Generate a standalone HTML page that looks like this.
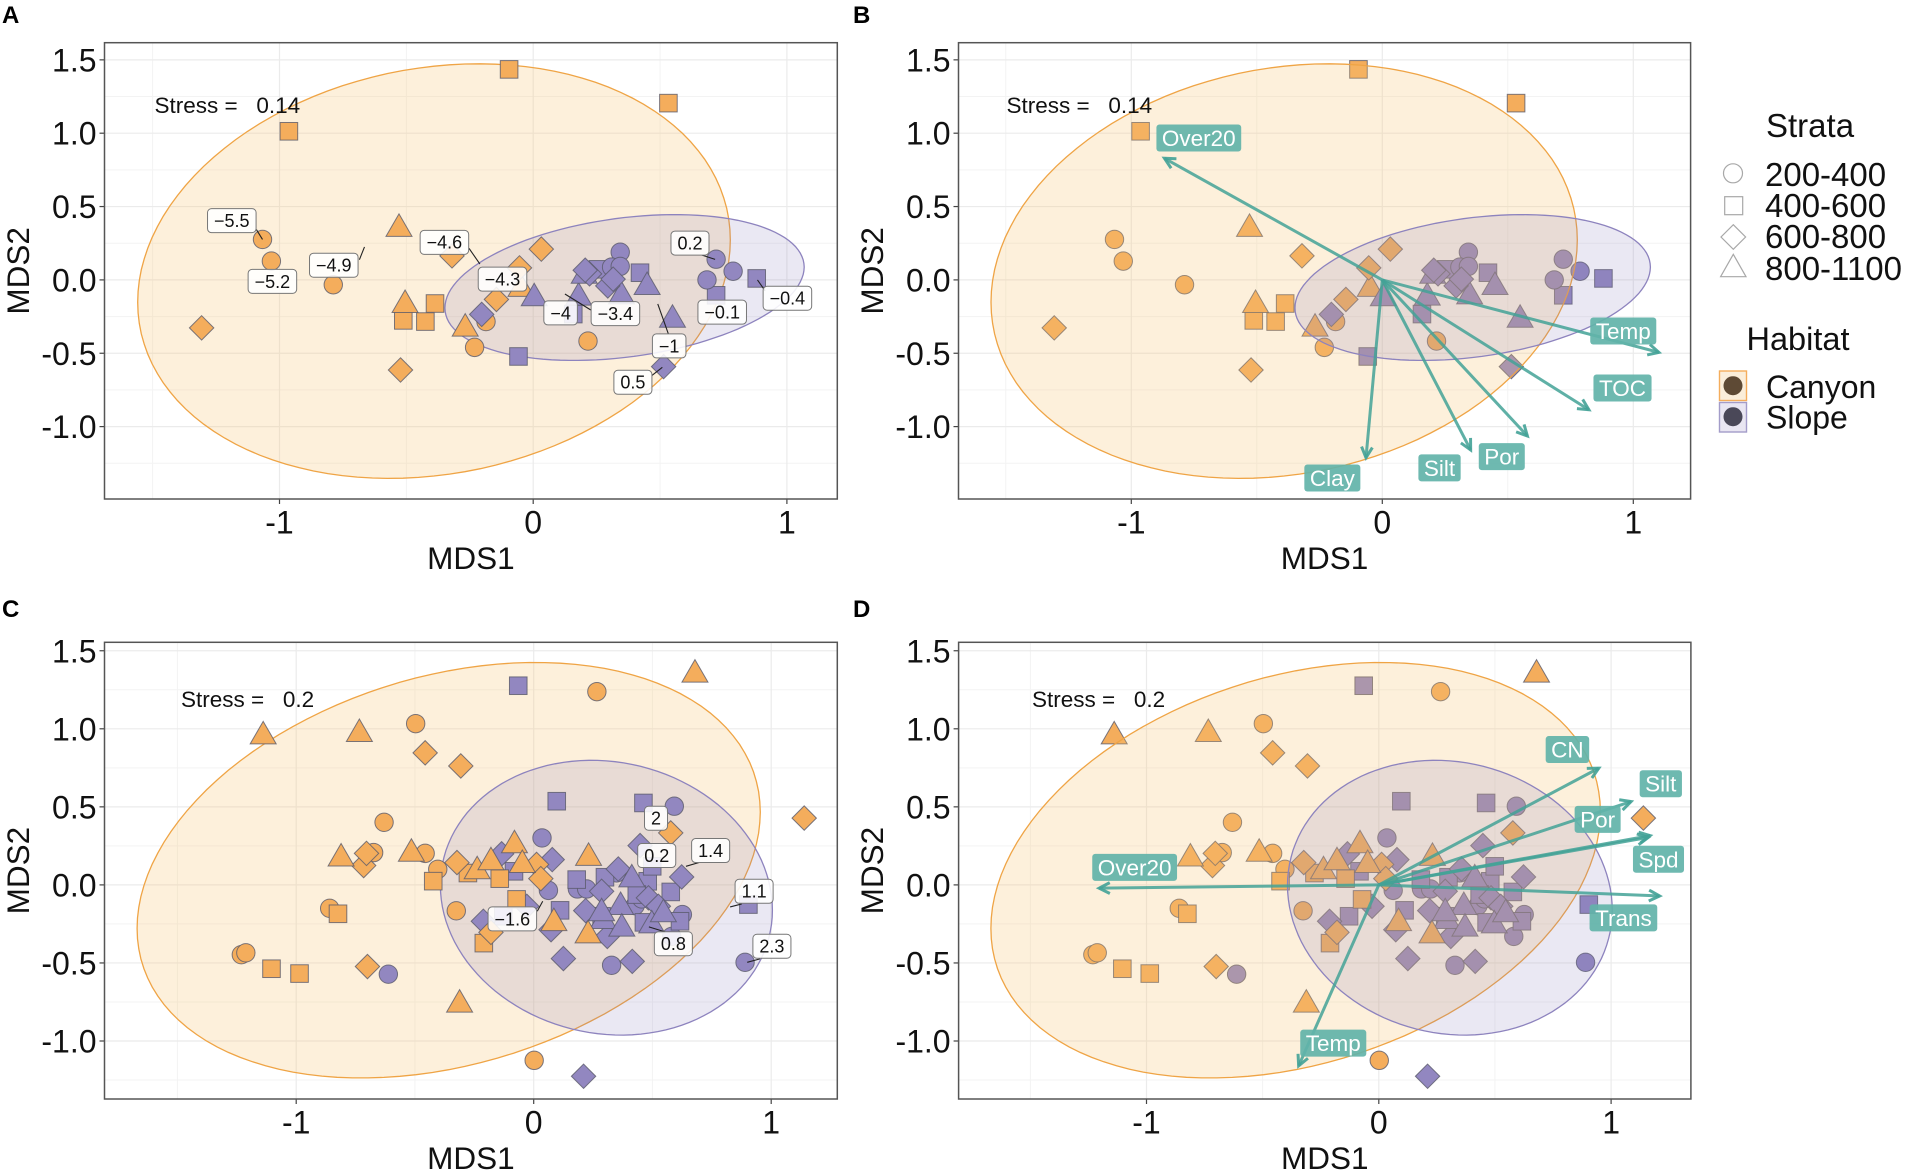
<!DOCTYPE html>
<html lang="en">
<head>
<meta charset="utf-8">
<title>NMDS ordination panels</title>
<style>
  html, body { margin: 0; padding: 0; background: #fff; }
  svg { display: block; font-family: "Liberation Sans", sans-serif; }
</style>
</head>
<body>
<svg id="fig" xmlns="http://www.w3.org/2000/svg" width="1907" height="1171" viewBox="0 0 1907 1171">
  <g>
    <text x="1766" y="137" font-size="33" fill="#111">Strata</text>
    <circle cx="1733" cy="173.3" r="9.5" fill="#fff" stroke="#a8a8a8" stroke-width="1.2"/>
    <rect x="1724.7" y="196.7" width="18" height="18" fill="#fff" stroke="#a8a8a8" stroke-width="1.2"/>
    <polygon points="1733.3,224.7 1745.6,237 1733.3,249.3 1721,237" fill="#fff" stroke="#a8a8a8" stroke-width="1.2"/>
    <polygon points="1733.3,254.3 1746,276.7 1720.6,276.7" fill="#fff" stroke="#a8a8a8" stroke-width="1.2"/>
    <text x="1765" y="186" font-size="33" fill="#111">200-400</text>
    <text x="1765" y="217" font-size="33" fill="#111">400-600</text>
    <text x="1765" y="248" font-size="33" fill="#111">600-800</text>
    <text x="1765" y="280" font-size="33" fill="#111">800-1100</text>
  </g>
  <g>
    <text x="1746.5" y="350" font-size="32.5" fill="#111">Habitat</text>
    <rect x="1719.5" y="371" width="27" height="29.5" fill="#fbeeda" stroke="#f4ad5c" stroke-width="1.4"/>
    <circle cx="1733" cy="385.7" r="9.5" fill="#5e4a35"/>
    <rect x="1719.5" y="402.5" width="27" height="29.5" fill="#e9e6f2" stroke="#a39cc9" stroke-width="1.4"/>
    <circle cx="1733" cy="416.7" r="9.5" fill="#4a4858"/>
    <text x="1766" y="398" font-size="32" fill="#111">Canyon</text>
    <text x="1766" y="428.5" font-size="32" fill="#111">Slope</text>
  </g>
</svg>
<script>
// ---- Ordination 1 (panels A, B): MDS1, MDS2 pairs ----
const ord1CanyonCircles = [[-1.067,.276],[-1.032,.128],[-.788,-.033],[-.186,-.284],[-.231,-.460],[.216,-.417]];
const ord1CanyonSquares = [[-.095,1.435],[.533,1.205],[-.963,1.013],[-.387,-.161],[-.512,-.276],[-.425,-.284]];
const ord1CanyonDiamonds = [[-1.307,-.327],[-.523,-.614],[-.320,.164],[-.145,-.133],[-.054,.082],[.032,.210]];
const ord1CanyonTriangles = [[-.529,.368],[-.505,-.151],[-.268,-.312],[-.048,-.041]];
const ord1SlopeCircles = [[.343,.189],[.309,.087],[.343,.092],[.721,.141],[.788,.059],[.685,0]];
const ord1SlopeSquares = [[-.058,-.522],[.158,-.233],[.255,.072],[.421,.049],[.721,-.105],[.881,.010]];
const ord1SlopeDiamonds = [[-.203,-.235],[.222,.041],[.205,.066],[.294,-.041],[.315,.005],[.514,-.591]];
const ord1SlopeTriangles = [[.004,-.105],[.179,-.100],[.201,.049],[.348,-.092],[.449,-.028],[.549,-.251]];
// ellipse: centre x, centre y, half-width, half-height, correlation
const ord1CanyonEllipse = [-.391,.060,1.168,1.413,.15];
const ord1SlopeEllipse = [.360,-.052,.708,.497,.28];

// ---- Ordination 2 (panels C, D) ----
const ord2CanyonCircles = [[.266,1.238],[-.497,1.033],[-.630,.401],[-.674,.207],[-.457,.202],[-.404,.100],[-.859,-.150],[-.326,-.166],[-1.231,-.447],[-1.212,-.435],[.002,-1.124]];
const ord2CanyonSquares = [[-.986,-.568],[-1.104,-.537],[-.824,-.185],[-.423,.024],[-.277,.076],[-.143,.040],[-.072,-.093],[-.210,-.373]];
const ord2CanyonDiamonds = [[1.139,.428],[.577,.333],[-.307,.762],[-.457,.846],[-.716,.124],[-.704,.202],[-.700,-.523],[-.323,.143],[.012,.131],[.030,.040],[-.180,-.304]];
const ord2CanyonTriangles = [[.679,1.366],[-1.139,.971],[-.734,.986],[-.312,-.748],[-.811,.188],[-.515,.219],[-.238,.107],[-.180,.164],[-.081,.273],[-.048,.147],[.231,.192],[.085,-.226],[.229,-.304]];
const ord2SlopeCircles = [[.592,.504],[.035,.301],[.062,-.035],[.184,-.026],[.223,-.026],[.349,.077],[.328,-.515],[.890,-.496],[.427,-.133],[.455,-.090],[.626,-.190],[.581,-.330],[-.612,-.572]];
const ord2SlopeSquares = [[-.065,1.276],[.097,.536],[.462,.525],[.904,-.126],[-.083,.087],[.181,.034],[.300,.049],[.480,.023],[.499,.119],[.577,-.045],[.434,-.062],[.111,-.163],[-.128,-.201],[.286,-.201],[.464,-.240],[.616,-.233]];
const ord2SlopeDiamonds = [[.448,.252],[.078,.162],[-.135,.199],[.623,.051],[.356,.102],[.483,-.083],[.525,-.137],[.219,-.165],[.286,-.041],[-.029,-.137],[-.212,-.233],[.073,-.287],[.125,-.472],[.415,-.490],[.310,-.330],[.210,-1.226]];
const ord2SlopeTriangles = [[.413,.055],[.366,-.122],[.293,-.212],[.286,-.162],[.371,-.261],[.497,-.240],[.546,-.169]];
const ord2CanyonEllipse = [-.358,.094,1.312,1.331,.28];
const ord2SlopeEllipse = [.306,-.082,.699,.880,-.09];

// ---- Depth labels, panel A ----
const panelALabelText = ['\u22125.5','\u22125.2','\u22124.9','\u22124.6','\u22124.3','\u22124','\u22123.4','\u22121','\u22120.1','\u22120.4','0.2','0.5'];
const panelALabelX = [-1.188,-1.028,-.786,-.350,-.121,.108,.324,.536,.745,1.002,.618,.393];
const panelALabelY = [.404,-.010,.100,.256,.005,-.225,-.230,-.450,-.220,-.125,.251,-.698];
const panelALeaderX1 = [-1.091,-.685,-.253,.125,.491,.664,.467,.884];
const panelALeaderY1 = [.343,.138,.215,-.096,-.164,.170,-.653,0];
const panelALeaderX2 = [-1.067,-.665,-.210,.227,.533,.717,.509,.914];
const panelALeaderY2 = [.276,.225,.108,-.205,-.369,.140,-.596,-.074];

// ---- Depth labels, panel C ----
const panelCLabelText = ['2','0.2','1.4','1.1','\u22121.6','0.8','2.3'];
const panelCLabelX = [.515,.518,.745,.928,-.090,.588,1.003];
const panelCLabelY = [.427,.188,.220,-.041,-.218,-.377,-.393];
const panelCLeaderX1 = [.641,.827,.899,.015,.485];
const panelCLeaderY1 = [.119,-.141,-.496,-.169,-.269];
const panelCLeaderX2 = [.700,.876,.953,.038,.553];
const panelCLeaderY2 = [.145,-.122,-.474,-.105,-.301];

// ---- Environmental vectors, panel B ----
const panelBVectorNames = ['Over20','Temp','TOC','Por','Silt','Clay'];
const panelBVectorX = [-.868,1.102,.823,.578,.352,-.065];
const panelBVectorY = [.829,-.494,-.885,-1.064,-1.159,-1.212];
const panelBTagX = [-.731,.960,.957,.476,.228,-.199];
const panelBTagY = [.967,-.348,-.737,-1.205,-1.281,-1.350];

// ---- Environmental vectors, panel D ----
const panelDVectorNames = ['CN','Silt','Por','Spd','Trans','Over20','Temp'];
const panelDVectorX = [.947,1.086,1.168,1.160,1.209,-1.204,-.345];
const panelDVectorY = [.748,.534,.316,.304,-.071,-.021,-1.159];
const panelDTagX = [.812,1.214,.942,1.204,1.053,-1.051,-.196];
const panelDTagY = [.867,.648,.420,.164,-.211,.112,-1.014];

const xTickValues = [-1,0,1];
const xTickLabels = ['-1','0','1'];
const yTickValues = [1.5,1,.5,0,-.5,-1];
const yTickLabels = ['1.5','1.0','0.5','0.0','-0.5','-1.0'];
const xMinorValues = [-1.5,-.5,.5];
const yMinorValues = [1.25,.75,.25,-.25,-.75,-1.25];

const svgNS = 'http://www.w3.org/2000/svg';
const fig = document.getElementById('fig');

function make(parent, tag, attrs, text) {
  const el = document.createElementNS(svgNS, tag);
  for (const k in attrs) el.setAttribute(k, attrs[k]);
  if (text !== undefined) el.textContent = text;
  parent.appendChild(el);
  return el;
}

const ord1 = {
  canyon: { circle: ord1CanyonCircles, square: ord1CanyonSquares, diamond: ord1CanyonDiamonds, triangle: ord1CanyonTriangles },
  slope: { circle: ord1SlopeCircles, square: ord1SlopeSquares, diamond: ord1SlopeDiamonds, triangle: ord1SlopeTriangles },
  canyonEllipse: ord1CanyonEllipse, slopeEllipse: ord1SlopeEllipse
};
const ord2 = {
  canyon: { circle: ord2CanyonCircles, square: ord2CanyonSquares, diamond: ord2CanyonDiamonds, triangle: ord2CanyonTriangles },
  slope: { circle: ord2SlopeCircles, square: ord2SlopeSquares, diamond: ord2SlopeDiamonds, triangle: ord2SlopeTriangles },
  canyonEllipse: ord2CanyonEllipse, slopeEllipse: ord2SlopeEllipse
};

const fills = { canyon: '#f4ad5c', slope: '#9287c0' };

function drawPoint(parent, shape, habitat, px, py) {
  const style = { fill: fills[habitat], stroke: '#5a5a6a', 'stroke-width': 1, 'stroke-opacity': .8 };
  let el;
  if (shape === 'circle') {
    el = make(parent, 'circle', Object.assign({ cx: px, cy: py, r: 9.2 }, style));
  } else if (shape === 'square') {
    el = make(parent, 'rect', Object.assign({ x: px - 8.8, y: py - 8.8, width: 17.6, height: 17.6 }, style));
  } else if (shape === 'diamond') {
    const h = 12.2;
    el = make(parent, 'polygon', Object.assign({ points: [px, py - h, px + h, py, px, py + h, px - h, py].join(' ') }, style));
  } else {
    el = make(parent, 'polygon', Object.assign({ points: [px, py - 12, px + 13, py + 10.5, px - 13, py + 10.5].join(' ') }, style));
  }
  
  
}

function drawEllipse(parent, params, sx, sy, fill, stroke, name) {
  const [cx, cy, wx, wy, rho] = params;
  const s = Math.sqrt(1 - rho * rho);
  let d = '';
  for (let i = 0; i <= 120; i++) {
    const t = i / 120 * 2 * Math.PI;
    const X = cx + wx * Math.cos(t);
    const Y = cy + wy * (rho * Math.cos(t) + s * Math.sin(t));
    d += (i ? 'L' : 'M') + sx(X).toFixed(1) + ' ' + sy(Y).toFixed(1);
  }
  const el = make(parent, 'path', { d: d + 'Z', fill: fill, stroke: stroke, 'stroke-width': 1.3 });
  
  
}

function drawDepthLabels(parent, sx, sy, texts, lx, ly, x1, y1, x2, y2) {
  x1.forEach(function (v, i) {
    const seg = make(parent, 'line', { x1: sx(v), y1: sy(y1[i]), x2: sx(x2[i]), y2: sy(y2[i]), stroke: '#222', 'stroke-width': 1.1 });
    
    
  });
  texts.forEach(function (t, i) {
    const px = sx(lx[i]), py = sy(ly[i]);
    const box = make(parent, 'rect', { x: px - 20, y: py - 12, width: 40, height: 24, rx: 4, fill: '#fff', 'fill-opacity': .88, stroke: '#777', 'stroke-width': 1 });
    
    
    const tx = make(parent, 'text', { x: px, y: py + 6.4, 'font-size': 18, 'text-anchor': 'middle', fill: '#111' }, t);
    
    
    const w = tx.getComputedTextLength() + 13;
    box.setAttribute('x', px - w / 2);
    box.setAttribute('width', w);
  });
}

function drawVectors(parent, sx, sy, names, vx, vy, tx, ty) {
  const ox = sx(0), oy = sy(0);
  const color = '#43a297';
  names.forEach(function (n, i) {
    const ex = sx(vx[i]), ey = sy(vy[i]);
    const line = make(parent, 'line', { x1: ox, y1: oy, x2: ex, y2: ey, stroke: color, 'stroke-opacity': .85, 'stroke-width': 3 });
    
    
    const a = Math.atan2(ey - oy, ex - ox), L = 12, sp = .47;
    const head = make(parent, 'polyline', {
      points: [ex - L * Math.cos(a - sp), ey - L * Math.sin(a - sp), ex, ey, ex - L * Math.cos(a + sp), ey - L * Math.sin(a + sp)].join(' '),
      fill: 'none', stroke: color, 'stroke-opacity': .9, 'stroke-width': 3
    });
    
    
  });
  names.forEach(function (n, i) {
    const px = sx(tx[i]), py = sy(ty[i]);
    const box = make(parent, 'rect', { x: px - 30, y: py - 13.5, width: 60, height: 27, rx: 3, fill: '#62b3a9', 'fill-opacity': .92 });
    
    
    const t = make(parent, 'text', { x: px, y: py + 8, 'font-size': 22.5, 'text-anchor': 'middle', fill: '#fff' }, n);
    
    
    const w = t.getComputedTextLength() + 11;
    box.setAttribute('x', px - w / 2);
    box.setAttribute('width', w);
  });
}

function drawPanel(cfg) {
  const g = make(fig, 'g', {});
  
  
  const sx = function (v) { return cfg.x0 + v * cfg.xu; };
  const sy = function (v) { return cfg.y0 - v * cfg.yu; };

  const tag = make(g, 'text', { x: cfg.tagX, y: cfg.tagY, 'font-size': 24, 'font-weight': 'bold', fill: '#000' }, cfg.id.toUpperCase());
  
  

  xMinorValues.forEach(function (v) {
    const l = make(g, 'line', { x1: sx(v), x2: sx(v), y1: cfg.top, y2: cfg.bottom, stroke: '#f3f3f3', 'stroke-width': 1 });
    
    
  });
  yMinorValues.forEach(function (v) {
    const l = make(g, 'line', { x1: cfg.left, x2: cfg.right, y1: sy(v), y2: sy(v), stroke: '#f3f3f3', 'stroke-width': 1 });
    
    
  });
  xTickValues.forEach(function (v, i) {
    const l = make(g, 'line', { x1: sx(v), x2: sx(v), y1: cfg.top, y2: cfg.bottom, stroke: '#ebebeb', 'stroke-width': 1.2 });
    
    
    const tk = make(g, 'line', { x1: sx(v), x2: sx(v), y1: cfg.bottom, y2: cfg.bottom + 5, stroke: '#444', 'stroke-width': 1.2 });
    
    
    const t = make(g, 'text', { x: sx(v), y: cfg.bottom + 34.5, 'font-size': 32, 'text-anchor': 'middle', fill: '#111' }, xTickLabels[i]);
    
    
  });
  yTickValues.forEach(function (v, i) {
    const l = make(g, 'line', { x1: cfg.left, x2: cfg.right, y1: sy(v), y2: sy(v), stroke: '#ebebeb', 'stroke-width': 1.2 });
    
    
    const tk = make(g, 'line', { x1: cfg.left - 5, x2: cfg.left, y1: sy(v), y2: sy(v), stroke: '#444', 'stroke-width': 1.2 });
    
    
    const t = make(g, 'text', { x: cfg.left - 8, y: sy(v) + 11.5, 'font-size': 32, 'text-anchor': 'end', fill: '#111' }, yTickLabels[i]);
    
    
  });

  const drawEllipses = function () {
    drawEllipse(g, cfg.ord.canyonEllipse, sx, sy, 'rgba(247,195,110,.25)', '#efa445', 'canyon-ellipse');
    drawEllipse(g, cfg.ord.slopeEllipse, sx, sy, 'rgba(128,118,182,.17)', '#8d83be', 'slope-ellipse');
  };
  const drawPoints = function () {
    cfg.order.forEach(function (habitat) {
      cfg.shapeOrder.forEach(function (shape) {
        cfg.ord[habitat][shape].forEach(function (p) {
          drawPoint(g, shape, habitat, sx(p[0]), sy(p[1]));
        });
      });
    });
  };
  if (cfg.ellipsesOnTop) { drawPoints(); drawEllipses(); } else { drawEllipses(); drawPoints(); }

  if (cfg.vectors) cfg.vectors(g, sx, sy);
  if (cfg.labels) cfg.labels(g, sx, sy);

  const stress = make(g, 'text', { x: cfg.stressX, y: cfg.stressY, 'font-size': 22.5, fill: '#111' }, cfg.stress);
  
  

  const frame = make(g, 'rect', { x: cfg.left, y: cfg.top, width: cfg.right - cfg.left, height: cfg.bottom - cfg.top, fill: 'none', stroke: '#555', 'stroke-width': 1.5 });
  
  

  const xt = make(g, 'text', { x: (cfg.left + cfg.right) / 2, y: cfg.bottom + 70, 'font-size': 31.5, 'text-anchor': 'middle', fill: '#111' }, 'MDS1');
  
  
  const cy = (cfg.top + cfg.bottom) / 2, bx = cfg.left - 75.5;
  const yt = make(g, 'text', { x: bx, y: cy, 'font-size': 31.5, 'text-anchor': 'middle', fill: '#111', transform: 'rotate(-90 ' + bx + ' ' + cy + ')' }, 'MDS2');
  
  
}

drawPanel({
  id: 'a', ord: ord1, order: ['canyon', 'slope'], shapeOrder: ['square', 'circle', 'triangle', 'diamond'], ellipsesOnTop: false,
  left: 104.5, right: 837.3, top: 42.7, bottom: 499,
  x0: 533.2, xu: 253.7, y0: 279.9, yu: 146.7,
  tagX: 2, tagY: 23, stressX: 154.5, stressY: 113, stress: 'Stress =\u00a0\u00a0 0.14',
  labels: function (g, sx, sy) {
    drawDepthLabels(g, sx, sy, panelALabelText, panelALabelX, panelALabelY, panelALeaderX1, panelALeaderY1, panelALeaderX2, panelALeaderY2);
  }
});
drawPanel({
  id: 'b', ord: ord1, order: ['canyon', 'slope'], shapeOrder: ['square', 'circle', 'triangle', 'diamond'], ellipsesOnTop: true,
  left: 958.5, right: 1690.6, top: 42.7, bottom: 499,
  x0: 1382.3, xu: 251, y0: 279.9, yu: 146.7,
  tagX: 853, tagY: 23, stressX: 1006.5, stressY: 113, stress: 'Stress =\u00a0\u00a0 0.14',
  vectors: function (g, sx, sy) {
    drawVectors(g, sx, sy, panelBVectorNames, panelBVectorX, panelBVectorY, panelBTagX, panelBTagY);
  }
});
drawPanel({
  id: 'c', ord: ord2, order: ['slope', 'canyon'], shapeOrder: ['circle', 'square', 'diamond', 'triangle'], ellipsesOnTop: false,
  left: 104.5, right: 837.3, top: 642.3, bottom: 1099,
  x0: 533.7, xu: 237.5, y0: 884.9, yu: 156.1,
  tagX: 2, tagY: 617, stressX: 181, stressY: 707, stress: 'Stress =\u00a0\u00a0 0.2',
  labels: function (g, sx, sy) {
    drawDepthLabels(g, sx, sy, panelCLabelText, panelCLabelX, panelCLabelY, panelCLeaderX1, panelCLeaderY1, panelCLeaderX2, panelCLeaderY2);
  }
});
drawPanel({
  id: 'd', ord: ord2, order: ['slope', 'canyon'], shapeOrder: ['circle', 'square', 'diamond', 'triangle'], ellipsesOnTop: true,
  left: 958.6, right: 1690.9, top: 642.3, bottom: 1099,
  x0: 1378.8, xu: 232.3, y0: 884.9, yu: 156.1,
  tagX: 853, tagY: 617, stressX: 1032, stressY: 707, stress: 'Stress =\u00a0\u00a0 0.2',
  vectors: function (g, sx, sy) {
    drawVectors(g, sx, sy, panelDVectorNames, panelDVectorX, panelDVectorY, panelDTagX, panelDTagY);
  }
});
</script>
</body>
</html>
